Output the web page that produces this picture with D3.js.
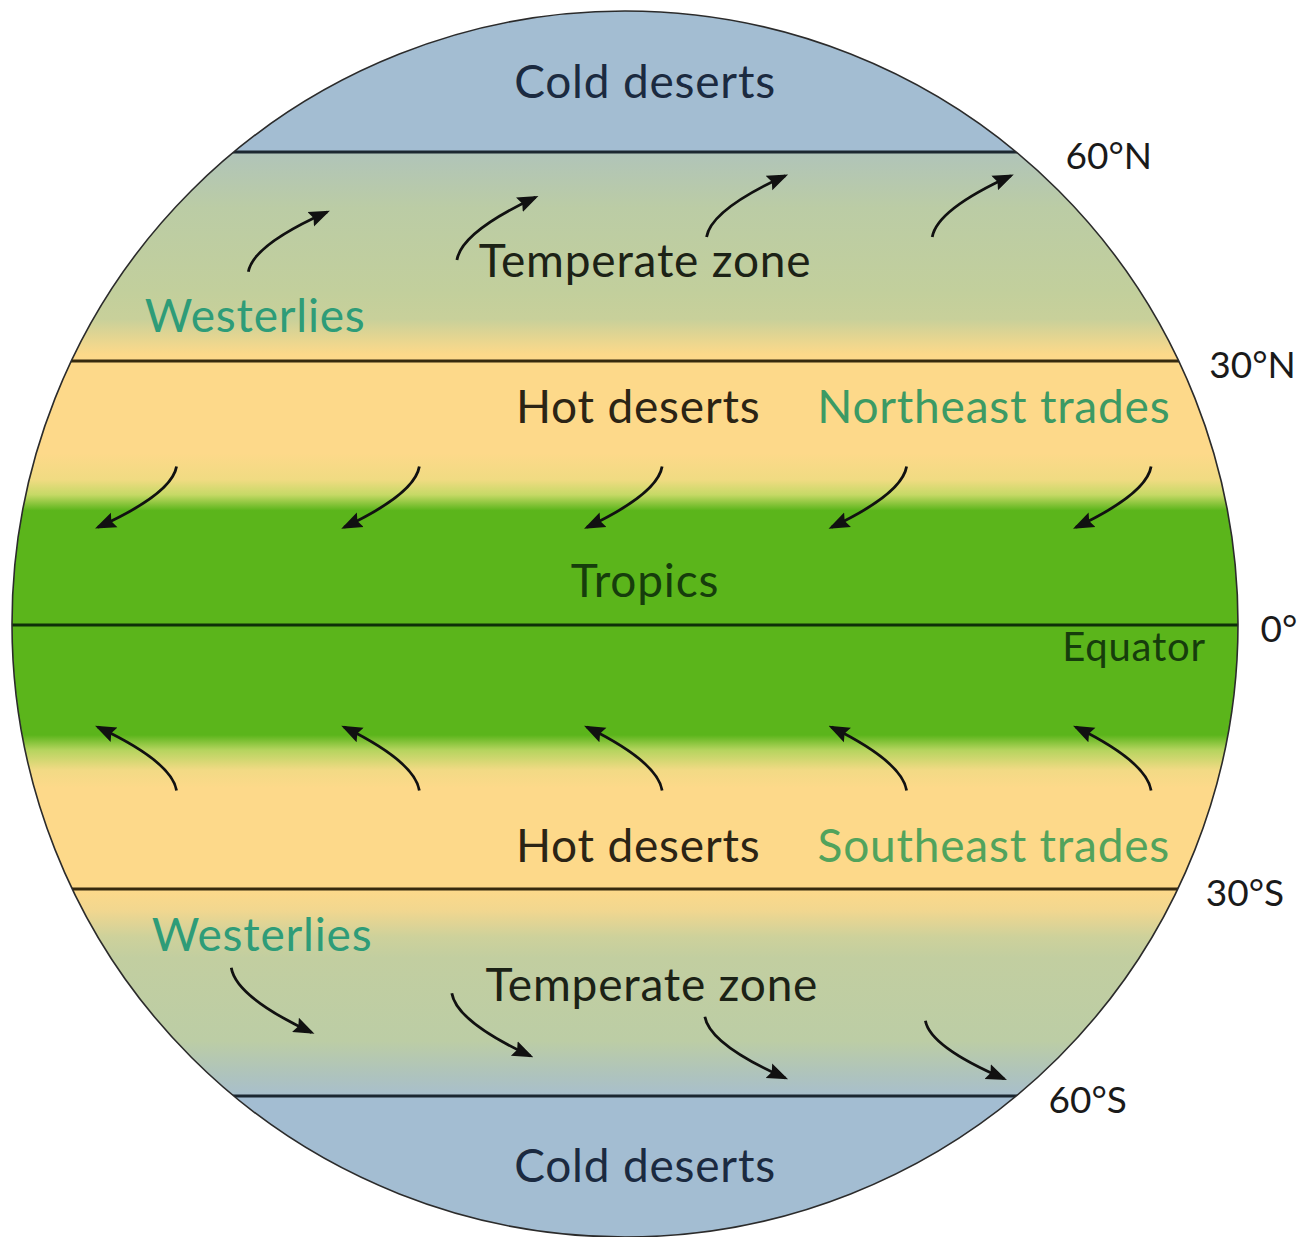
<!DOCTYPE html>
<html>
<head>
<meta charset="utf-8">
<script src="https://cdn.jsdelivr.net/npm/d3@7"></script>
<style>
  body { margin: 0; background: #fff; }
  svg { display: block; }
  .zone { font-family: Lato, "Open Sans", sans-serif; font-size: 46px; letter-spacing: 0.8px; }
  .lat { font-family: Lato, "Open Sans", sans-serif; font-size: 37px; fill: #1a1a1a; }
</style>
</head>
<body>
<div id="globe"></div>
<script>
// zone boundaries (degrees latitude) and their labels
const boundaryLats = [60, 30, 0, -30, -60];
const boundaryLabels = ["60°N", "30°N", "0°", "30°S", "60°S"];
const boundaryLabelLon = [129, 171, 186, 170, 124];

// zone names, anchored in lon / lat
const zoneNames = ["Cold deserts", "Temperate zone", "Westerlies", "Hot deserts", "Northeast trades",
  "Tropics", "Equator", "Hot deserts", "Southeast trades", "Westerlies", "Temperate zone", "Cold deserts"];
const zoneLon = [6, 6, -108, 4, 108, 6, 149, 4, 108, -106, 8, 6];
const zoneLat = [71.5, 42, 34.2, 23, 23, 3.2, -4.1, -26.9, -26.9, -39, -46.2, -78.4];
const zoneKind = ["cold", "temp", "wind", "hot", "wind", "trop", "trop", "hot", "wind2", "wind", "temp", "cold"];

// wind arrows: tail and head in [lon, lat]
const nWesterliesFrom = [[-110, 42.8], [-49, 44.5], [24, 47.8], [90, 47.8]];
const nWesterliesTo = [[-87, 51.4], [-26, 53.5], [47, 56.6], [113, 56.6]];
const neTradesFrom = [[-131, 18], [-60, 18], [11, 18], [82.5, 18], [154, 18]];
const neTradesTo = [[-154, 11.1], [-82, 11.1], [-11, 11.1], [60.5, 11.1], [132, 11.1]];
const seTradesFrom = [[-131, -18.8], [-60, -18.8], [11, -18.8], [82.5, -18.8], [154, -18.8]];
const seTradesTo = [[-154, -11.6], [-82, -11.6], [-11, -11.6], [60.5, -11.6], [132, -11.6]];
const sWesterliesFrom = [[-115, -41.4], [-50.5, -45.1], [23.5, -48.5], [88, -49.1]];
const sWesterliesTo = [[-91.5, -50.8], [-27.5, -54.2], [47, -57.4], [111, -57.5]];

const width = 1299, height = 1237;
const cx = 625, cy = 624, r = 613;

const x = d3.scaleLinear().domain([-180, 180]).range([cx - r - 3, cx + r + 2]);
const y = d3.scaleLinear()
  .domain([90, 60, 30, 0, -30, -60, -90])
  .range([11, 152, 361, 625, 889, 1096, 1237]);

const svg = d3.select("#globe").append("svg")
  .attr("width", width)
  .attr("height", height);

const defs = svg.append("defs");

defs.append("clipPath").attr("id", "disc")
  .append("circle").attr("cx", cx).attr("cy", cy).attr("r", r);

// vertical colour ramp, stops placed by latitude
const ramp = [
  [90, "#a3bdd2"], [60, "#a3bdd2"], [59.9, "#b0c4b9"], [52, "#bbcca5"], [40, "#c2cf9c"],
  [36, "#c8d09a"], [33, "#e8d690"], [31, "#fcd98a"], [30, "#fdd98a"],
  [19.5, "#fdd98a"], [16.5, "#f0db82"], [14.8, "#c6d966"], [13, "#5bb51b"],
  [-12.5, "#5bb51b"], [-14.2, "#b5d45e"], [-16.5, "#f2da85"], [-18.5, "#fdd98a"],
  [-30, "#fdd98a"], [-33, "#f2d78f"], [-37, "#cdd19b"], [-40, "#c2cea0"],
  [-52, "#bccda5"], [-57, "#aec3bd"], [-59.9, "#a8bfcc"], [-60, "#a3bdd2"], [-90, "#a3bdd2"]
];

const grad = defs.append("linearGradient")
  .attr("id", "zones")
  .attr("gradientUnits", "userSpaceOnUse")
  .attr("x1", 0).attr("x2", 0)
  .attr("y1", y(90)).attr("y2", y(-90));

grad.selectAll("stop")
  .data(ramp)
  .enter()
  .append("stop")
  .attr("offset", d => (y(d[0]) - y(90)) / (y(-90) - y(90)))
  .attr("stop-color", d => d[1]);

// arrow head
defs.append("marker")
  .attr("id", "head")
  .attr("viewBox", "0 -5 10 10")
  .attr("refX", 8.5)
  .attr("refY", 0)
  .attr("markerUnits", "userSpaceOnUse")
  .attr("markerWidth", 21)
  .attr("markerHeight", 21)
  .attr("orient", "auto")
  .append("path")
  .attr("d", "M0,-3.8L10,0L0,3.8L1.5,0Z")
  .attr("fill", "#111");

const disc = svg.append("g").attr("clip-path", "url(#disc)");

disc.append("rect")
  .attr("x", cx - r).attr("y", cy - r)
  .attr("width", 2 * r).attr("height", 2 * r)
  .attr("fill", "url(#zones)");

const lineColors = ["#1b2731", "#372a0e", "#0e3008", "#372a0e", "#1b2731"];

disc.selectAll(".boundary")
  .data(boundaryLats)
  .enter()
  .append("line")
  .attr("class", "boundary")
  .attr("x1", cx - r).attr("x2", cx + r)
  .attr("y1", d => y(d)).attr("y2", d => y(d))
  .attr("stroke", (d, i) => lineColors[i])
  .attr("stroke-width", 2.8);

svg.append("circle")
  .attr("cx", cx).attr("cy", cy).attr("r", r)
  .attr("fill", "none")
  .attr("stroke", "#2b2b2b")
  .attr("stroke-width", 1.6);

// wind arrows
const winds = [
  [nWesterliesFrom, nWesterliesTo],
  [neTradesFrom, neTradesTo],
  [seTradesFrom, seTradesTo],
  [sWesterliesFrom, sWesterliesTo]
];

function arrowPath(from, to) {
  const x0 = x(from[0]), y0 = y(from[1]);
  const x1 = x(to[0]), y1 = y(to[1]);
  const p = d3.path();
  p.moveTo(x0, y0);
  p.quadraticCurveTo(x0 + 0.06 * (x1 - x0), y0 + 0.45 * (y1 - y0), x1, y1);
  return p.toString();
}

winds.forEach(([from, to]) => {
  disc.selectAll(null)
    .data(from)
    .enter()
    .append("path")
    .attr("d", (d, i) => arrowPath(d, to[i]))
    .attr("fill", "none")
    .attr("stroke", "#111")
    .attr("stroke-width", 2.8)
    .attr("marker-end", "url(#head)");
});

// zone labels
const zoneColor = {
  cold: "#1b2a40", temp: "#1c2216", wind: "#2e9c78", wind2: "#52a35c",
  hot: "#2b2415", trop: "#163d0c"
};

svg.selectAll(".zone")
  .data(zoneNames)
  .enter()
  .append("text")
  .attr("class", "zone")
  .attr("x", (d, i) => x(zoneLon[i]))
  .attr("y", (d, i) => y(zoneLat[i]))
  .attr("text-anchor", "middle")
  .style("font-size", d => d === "Equator" ? "40px" : null)
  .attr("fill", (d, i) => d === "Northeast trades" ? "#3c9a64" : zoneColor[zoneKind[i]])
  .text(d => d);

// latitude labels outside the disc
svg.selectAll(".lat")
  .data(boundaryLabels)
  .enter()
  .append("text")
  .attr("class", "lat")
  .attr("x", (d, i) => x(boundaryLabelLon[i]))
  .attr("y", (d, i) => y(boundaryLats[i]) + 17)
  .text(d => d);
</script>
</body>
</html>
